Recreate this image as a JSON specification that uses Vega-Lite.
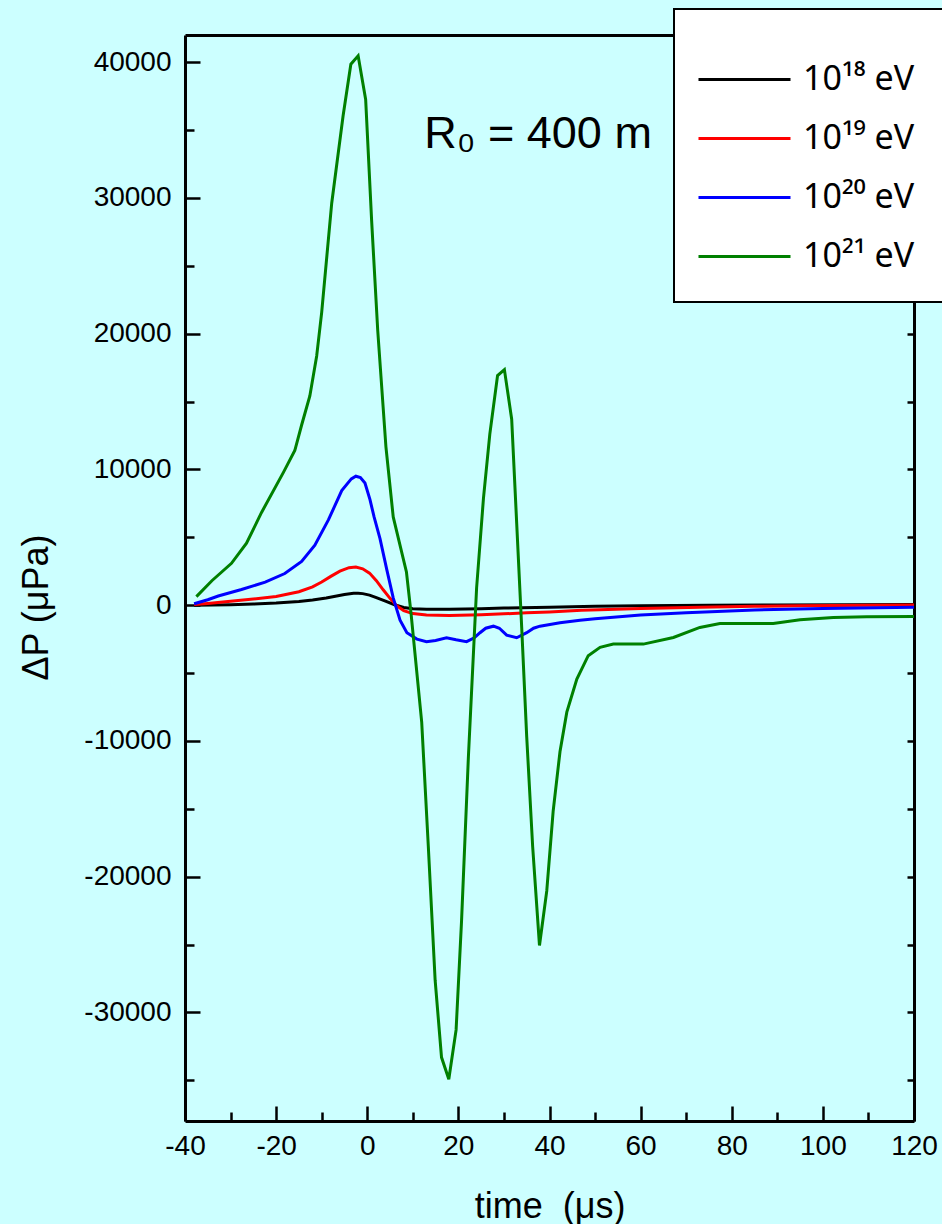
{
  "$schema": "https://vega.github.io/schema/vega-lite/v6.json",
  "width": 729,
  "height": 1086,
  "autosize": {"type": "none"},
  "padding": {"left": 185, "top": 35, "right": 28, "bottom": 103},
  "background": "#CCFFFF",
  "config": {
    "view": {"stroke": null},
    "font": "Liberation Sans",
    "axis": {
      "domainColor": "black", "domainWidth": 3, "tickColor": "black", "tickWidth": 2.5,
      "labelColor": "black", "titleColor": "black", "labelFont": "Liberation Sans", "titleFont": "Liberation Sans",
      "labelFontSize": 28, "titleFontSize": 36, "titleFontWeight": "normal", "grid": false,
      "labelFlush": false, "labelOverlap": false
    },
    "legend": {"strokeWidth": 2}
  },
  "datasets": {
    "curves": [
      {"series": "10¹⁸ eV", "t": -38, "v": 0},
      {"series": "10¹⁸ eV", "t": -30, "v": 30},
      {"series": "10¹⁸ eV", "t": -25, "v": 80},
      {"series": "10¹⁸ eV", "t": -20, "v": 150},
      {"series": "10¹⁸ eV", "t": -15, "v": 270},
      {"series": "10¹⁸ eV", "t": -12, "v": 380},
      {"series": "10¹⁸ eV", "t": -9, "v": 520},
      {"series": "10¹⁸ eV", "t": -7, "v": 650},
      {"series": "10¹⁸ eV", "t": -5, "v": 780},
      {"series": "10¹⁸ eV", "t": -3, "v": 870},
      {"series": "10¹⁸ eV", "t": -2, "v": 880},
      {"series": "10¹⁸ eV", "t": -1, "v": 850},
      {"series": "10¹⁸ eV", "t": 0.5, "v": 740},
      {"series": "10¹⁸ eV", "t": 2, "v": 560},
      {"series": "10¹⁸ eV", "t": 4, "v": 290},
      {"series": "10¹⁸ eV", "t": 6, "v": 30},
      {"series": "10¹⁸ eV", "t": 8, "v": -170},
      {"series": "10¹⁸ eV", "t": 10, "v": -270},
      {"series": "10¹⁸ eV", "t": 13, "v": -300},
      {"series": "10¹⁸ eV", "t": 18, "v": -295},
      {"series": "10¹⁸ eV", "t": 25, "v": -260},
      {"series": "10¹⁸ eV", "t": 30, "v": -210},
      {"series": "10¹⁸ eV", "t": 40, "v": -150},
      {"series": "10¹⁸ eV", "t": 50, "v": -90},
      {"series": "10¹⁸ eV", "t": 60, "v": -50},
      {"series": "10¹⁸ eV", "t": 75, "v": -10},
      {"series": "10¹⁸ eV", "t": 90, "v": 10},
      {"series": "10¹⁸ eV", "t": 105, "v": 25},
      {"series": "10¹⁸ eV", "t": 120, "v": 40},

      {"series": "10¹⁹ eV", "t": -38, "v": 40},
      {"series": "10¹⁹ eV", "t": -35, "v": 130},
      {"series": "10¹⁹ eV", "t": -30, "v": 290},
      {"series": "10¹⁹ eV", "t": -25, "v": 450},
      {"series": "10¹⁹ eV", "t": -20, "v": 640},
      {"series": "10¹⁹ eV", "t": -15, "v": 990},
      {"series": "10¹⁹ eV", "t": -12, "v": 1350},
      {"series": "10¹⁹ eV", "t": -10, "v": 1700},
      {"series": "10¹⁹ eV", "t": -8, "v": 2120},
      {"series": "10¹⁹ eV", "t": -6, "v": 2500},
      {"series": "10¹⁹ eV", "t": -4, "v": 2760},
      {"series": "10¹⁹ eV", "t": -2.5, "v": 2810},
      {"series": "10¹⁹ eV", "t": -1, "v": 2680},
      {"series": "10¹⁹ eV", "t": 0.5, "v": 2360},
      {"series": "10¹⁹ eV", "t": 2, "v": 1800},
      {"series": "10¹⁹ eV", "t": 3.5, "v": 1130},
      {"series": "10¹⁹ eV", "t": 5, "v": 500},
      {"series": "10¹⁹ eV", "t": 6.5, "v": -60},
      {"series": "10¹⁹ eV", "t": 8, "v": -400},
      {"series": "10¹⁹ eV", "t": 10, "v": -620},
      {"series": "10¹⁹ eV", "t": 13, "v": -730},
      {"series": "10¹⁹ eV", "t": 18, "v": -765},
      {"series": "10¹⁹ eV", "t": 25, "v": -700},
      {"series": "10¹⁹ eV", "t": 30, "v": -640},
      {"series": "10¹⁹ eV", "t": 35, "v": -560},
      {"series": "10¹⁹ eV", "t": 40, "v": -500},
      {"series": "10¹⁹ eV", "t": 47, "v": -380},
      {"series": "10¹⁹ eV", "t": 51, "v": -330},
      {"series": "10¹⁹ eV", "t": 60, "v": -250},
      {"series": "10¹⁹ eV", "t": 73, "v": -160},
      {"series": "10¹⁹ eV", "t": 85, "v": -90},
      {"series": "10¹⁹ eV", "t": 95, "v": -50},
      {"series": "10¹⁹ eV", "t": 110, "v": -10},
      {"series": "10¹⁹ eV", "t": 120, "v": 10},

      {"series": "10²⁰ eV", "t": -38, "v": 100},
      {"series": "10²⁰ eV", "t": -35, "v": 400},
      {"series": "10²⁰ eV", "t": -32.7, "v": 670},
      {"series": "10²⁰ eV", "t": -27.6, "v": 1150},
      {"series": "10²⁰ eV", "t": -22.4, "v": 1690},
      {"series": "10²⁰ eV", "t": -18.1, "v": 2330},
      {"series": "10²⁰ eV", "t": -14.4, "v": 3216},
      {"series": "10²⁰ eV", "t": -11.5, "v": 4420},
      {"series": "10²⁰ eV", "t": -8.5, "v": 6300},
      {"series": "10²⁰ eV", "t": -5.6, "v": 8440},
      {"series": "10²⁰ eV", "t": -3.5, "v": 9300},
      {"series": "10²⁰ eV", "t": -2.5, "v": 9500},
      {"series": "10²⁰ eV", "t": -1.5, "v": 9400},
      {"series": "10²⁰ eV", "t": -0.5, "v": 9000},
      {"series": "10²⁰ eV", "t": 0.6, "v": 7770},
      {"series": "10²⁰ eV", "t": 1.5, "v": 6500},
      {"series": "10²⁰ eV", "t": 2.8, "v": 4900},
      {"series": "10²⁰ eV", "t": 4.3, "v": 2600},
      {"series": "10²⁰ eV", "t": 5.7, "v": 530},
      {"series": "10²⁰ eV", "t": 7.2, "v": -1110},
      {"series": "10²⁰ eV", "t": 8.7, "v": -2030},
      {"series": "10²⁰ eV", "t": 10.9, "v": -2500},
      {"series": "10²⁰ eV", "t": 13, "v": -2690},
      {"series": "10²⁰ eV", "t": 15, "v": -2600},
      {"series": "10²⁰ eV", "t": 17.4, "v": -2400},
      {"series": "10²⁰ eV", "t": 19.5, "v": -2550},
      {"series": "10²⁰ eV", "t": 21.8, "v": -2690},
      {"series": "10²⁰ eV", "t": 23.5, "v": -2400},
      {"series": "10²⁰ eV", "t": 24.75, "v": -2030},
      {"series": "10²⁰ eV", "t": 26, "v": -1700},
      {"series": "10²⁰ eV", "t": 27.7, "v": -1550},
      {"series": "10²⁰ eV", "t": 29, "v": -1700},
      {"series": "10²⁰ eV", "t": 30.6, "v": -2210},
      {"series": "10²⁰ eV", "t": 32.8, "v": -2400},
      {"series": "10²⁰ eV", "t": 35, "v": -2030},
      {"series": "10²⁰ eV", "t": 36.5, "v": -1700},
      {"series": "10²⁰ eV", "t": 37.9, "v": -1550},
      {"series": "10²⁰ eV", "t": 42.3, "v": -1300},
      {"series": "10²⁰ eV", "t": 46.7, "v": -1110},
      {"series": "10²⁰ eV", "t": 50, "v": -1000},
      {"series": "10²⁰ eV", "t": 60, "v": -720},
      {"series": "10²⁰ eV", "t": 70, "v": -560},
      {"series": "10²⁰ eV", "t": 85, "v": -350},
      {"series": "10²⁰ eV", "t": 100, "v": -250},
      {"series": "10²⁰ eV", "t": 120, "v": -150},

      {"series": "10²¹ eV", "t": -37.5, "v": 630},
      {"series": "10²¹ eV", "t": -34.1, "v": 1800},
      {"series": "10²¹ eV", "t": -29.8, "v": 3080},
      {"series": "10²¹ eV", "t": -26.5, "v": 4560},
      {"series": "10²¹ eV", "t": -23.2, "v": 6830},
      {"series": "10²¹ eV", "t": -18.4, "v": 9780},
      {"series": "10²¹ eV", "t": -15.9, "v": 11390},
      {"series": "10²¹ eV", "t": -14.4, "v": 13270},
      {"series": "10²¹ eV", "t": -12.6, "v": 15410},
      {"series": "10²¹ eV", "t": -11.1, "v": 18360},
      {"series": "10²¹ eV", "t": -10.0, "v": 21570},
      {"series": "10²¹ eV", "t": -7.8, "v": 29610},
      {"series": "10²¹ eV", "t": -5.3, "v": 36050},
      {"series": "10²¹ eV", "t": -3.6, "v": 39850},
      {"series": "10²¹ eV", "t": -2.0, "v": 40470},
      {"series": "10²¹ eV", "t": -0.35, "v": 37250},
      {"series": "10²¹ eV", "t": 0.97, "v": 28270},
      {"series": "10²¹ eV", "t": 2.3, "v": 20230},
      {"series": "10²¹ eV", "t": 4.1, "v": 11660},
      {"series": "10²¹ eV", "t": 5.7, "v": 6500},
      {"series": "10²¹ eV", "t": 8.6, "v": 2450},
      {"series": "10²¹ eV", "t": 9.6, "v": -566},
      {"series": "10²¹ eV", "t": 11.95, "v": -8610},
      {"series": "10²¹ eV", "t": 13.4, "v": -17760},
      {"series": "10²¹ eV", "t": 14.9, "v": -27630},
      {"series": "10²¹ eV", "t": 16.3, "v": -33310},
      {"series": "10²¹ eV", "t": 17.9, "v": -34930},
      {"series": "10²¹ eV", "t": 19.5, "v": -31290},
      {"series": "10²¹ eV", "t": 20.7, "v": -23240},
      {"series": "10²¹ eV", "t": 22.2, "v": -11170},
      {"series": "10²¹ eV", "t": 24.0, "v": 1265},
      {"series": "10²¹ eV", "t": 25.5, "v": 7845},
      {"series": "10²¹ eV", "t": 26.9, "v": 12600},
      {"series": "10²¹ eV", "t": 28.6, "v": 16910},
      {"series": "10²¹ eV", "t": 30.1, "v": 17350},
      {"series": "10²¹ eV", "t": 31.7, "v": 13700},
      {"series": "10²¹ eV", "t": 32.8, "v": 6020},
      {"series": "10²¹ eV", "t": 33.9, "v": -1660},
      {"series": "10²¹ eV", "t": 35.0, "v": -9700},
      {"series": "10²¹ eV", "t": 36.3, "v": -17760},
      {"series": "10²¹ eV", "t": 37.8, "v": -25070},
      {"series": "10²¹ eV", "t": 39.4, "v": -21050},
      {"series": "10²¹ eV", "t": 40.8, "v": -15190},
      {"series": "10²¹ eV", "t": 42.3, "v": -10800},
      {"series": "10²¹ eV", "t": 43.8, "v": -7880},
      {"series": "10²¹ eV", "t": 46.0, "v": -5440},
      {"series": "10²¹ eV", "t": 48.5, "v": -3720},
      {"series": "10²¹ eV", "t": 51.1, "v": -3110},
      {"series": "10²¹ eV", "t": 54.0, "v": -2870},
      {"series": "10²¹ eV", "t": 60.6, "v": -2870},
      {"series": "10²¹ eV", "t": 67.2, "v": -2380},
      {"series": "10²¹ eV", "t": 73.0, "v": -1640},
      {"series": "10²¹ eV", "t": 77.4, "v": -1350},
      {"series": "10²¹ eV", "t": 84.0, "v": -1350},
      {"series": "10²¹ eV", "t": 89.1, "v": -1350},
      {"series": "10²¹ eV", "t": 95.0, "v": -1080},
      {"series": "10²¹ eV", "t": 102.3, "v": -910},
      {"series": "10²¹ eV", "t": 109.6, "v": -860},
      {"series": "10²¹ eV", "t": 120, "v": -830}
    ],
    "note": [{"t": 37.5, "v": 33700, "label": "R₀ = 400 m"}]
  },
  "layer": [
    {
      "data": {"name": "curves"},
      "mark": {"type": "line", "strokeWidth": 3, "clip": true},
      "encoding": {
        "x": {
          "field": "t", "type": "quantitative",
          "scale": {"domain": [-40, 120], "nice": false, "zero": false},
          "axis": {
            "orient": "bottom",
            "values": [-40, -30, -20, -10, 0, 10, 20, 30, 40, 50, 60, 70, 80, 90, 100, 110, 120],
            "labelExpr": "datum.value % 20 === 0 ? '' + datum.value : ''",
            "tickSize": {"condition": {"test": "datum.value % 20 === 0", "value": -15}, "value": -9},
            "labelPadding": 26,
            "title": "time\u00a0\u00a0(μs)",
            "titleY": 96,
            "titleBaseline": "alphabetic"
          }
        },
        "y": {
          "field": "v", "type": "quantitative",
          "scale": {"domain": [-38000, 42000], "nice": false, "zero": false},
          "axis": {
            "orient": "left",
            "values": [-35000, -30000, -25000, -20000, -15000, -10000, -5000, 0, 5000, 10000, 15000, 20000, 25000, 30000, 35000, 40000],
            "labelExpr": "datum.value % 10000 === 0 ? '' + datum.value : ''",
            "tickSize": {"condition": {"test": "datum.value % 10000 === 0", "value": -15}, "value": -9},
            "labelPadding": 29,
            "title": "ΔP (μPa)",
            "titleX": -149,
            "titleY": 572,
            "titleAngle": -90,
            "titleAlign": "center",
            "titleBaseline": "middle"
          }
        },
        "color": {
          "field": "series", "type": "nominal",
          "scale": {"domain": ["10¹⁸ eV", "10¹⁹ eV", "10²⁰ eV", "10²¹ eV"], "range": ["#000000", "#FF0000", "#0000FF", "#008000"]},
          "legend": {
            "orient": "none", "legendX": 489, "legendY": -26, "title": null,
            "fillColor": "white", "strokeColor": "black", "padding": 28.5,
            "symbolType": "M-1.136,0H1.136", "symbolSize": 6561, "symbolStrokeWidth": 3,
            "labelFontSize": 34, "labelFont": "Noto Sans", "labelColor": "black",
            "labelOffset": 16.5, "rowPadding": 0, "labelLimit": 300
          }
        }
      }
    },
    {
      "data": {"name": "note"},
      "mark": {"type": "text", "fontSize": 45, "align": "center", "baseline": "alphabetic", "color": "black", "font": "Liberation Sans, Noto Sans"},
      "encoding": {
        "x": {
          "field": "t", "type": "quantitative",
          "axis": {
            "orient": "top", "labels": false, "title": null, "ticks": false
          }
        },
        "y": {
          "field": "v", "type": "quantitative",
          "axis": {
            "orient": "right", "labels": false, "title": null,
            "values": [-35000, -30000, -25000, -20000, -15000, -10000, -5000, 0, 5000, 10000, 15000, 20000, 25000, 30000, 35000, 40000],
            "tickSize": -7
          }
        },
        "text": {"field": "label"}
      }
    }
  ],
  "resolve": {"axis": {"x": "independent", "y": "independent"}}
}
